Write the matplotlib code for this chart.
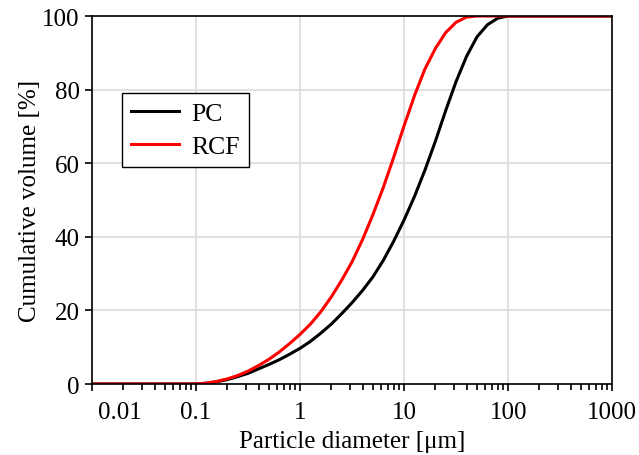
import matplotlib
matplotlib.use("Agg")
import matplotlib.pyplot as plt
import matplotlib.transforms as mtransforms

# 입경 분포 데이터 (그림에서 읽은 값, 1/10 decade 간격)
diam = [0.01, 0.1, 0.126, 0.158, 0.2, 0.251, 0.316, 0.398, 0.501, 0.631, 0.794,
        1, 1.26, 1.58, 2, 2.51, 3.16, 3.98, 5.01, 6.31, 7.94,
        10, 12.6, 15.8, 20, 25.1, 31.6, 39.8, 50.1, 63.1, 79.4, 100, 1000]

pc_v = [0, 0, 0.2, 0.6, 1.2, 2.0, 2.9, 4.1, 5.3, 6.6, 8.1,
        9.7, 11.6, 13.8, 16.3, 19.1, 22.1, 25.4, 29.1, 33.6, 38.8,
        44.6, 51, 58, 66, 74.3, 82.2, 89, 94.3, 97.6, 99.4, 100, 100]

rcf_v = [0, 0, 0.25, 0.7, 1.4, 2.3, 3.5, 5.0, 6.7, 8.7, 11.0,
         13.5, 16.3, 19.6, 23.7, 28.2, 33.2, 39.2, 46, 53.4, 61.6,
         70.2, 78.4, 85.5, 91.2, 95.5, 98.3, 99.7, 100, 100, 100, 100, 100]

xticks = [0.01, 0.1, 1, 10, 100, 1000]
xticklabels = ["0.01", "0.1", "1", "10", "100", "1000"]
yticks = [0, 20, 40, 60, 80, 100]

plt.rcParams['font.family'] = ['Liberation Serif', 'DejaVu Serif']

fig = plt.figure(figsize=(6.39, 4.56), dpi=100)
ax = fig.add_axes([0.144, 0.1557, 0.814, 0.807])

ax.plot(diam, pc_v, color="black", lw=2.2, label="PC")
ax.plot(diam, rcf_v, color="red", lw=2.2, label="RCF")

ax.set_xscale("log")
ax.set_xlim(0.01, 1000)
ax.set_ylim(0, 100)
ax.set_xticks(xticks)
ax.set_xticklabels(xticklabels)
ax.set_yticks(yticks)

ax.grid(True, which="major", color="#dcdcdc", lw=1.2)
ax.set_axisbelow(True)

ax.tick_params(axis="both", which="major", direction="out", length=5, width=1.2,
               labelsize=18, pad=4, colors="black")
ax.tick_params(axis="x", which="major", pad=7)
ax.tick_params(axis="x", which="minor", direction="out", length=4, width=1.2)
ax.tick_params(axis="y", which="minor", left=False)
for s in ax.spines.values():
    s.set_linewidth(1.2)

# 첫 번째 눈금 라벨은 축 안쪽으로 밀어 배치
lab0 = ax.get_xticklabels()[0]
lab0.set_horizontalalignment("left")
lab0.set_transform(lab0.get_transform() +
                   mtransforms.ScaledTranslation(6 / 100, 0, fig.dpi_scale_trans))

ax.set_xlabel("Particle diameter [μm]", fontsize=18, labelpad=5)
ax.set_ylabel("Cumulative volume [%]", fontsize=18, labelpad=1)

leg = ax.legend(loc="upper left", bbox_to_anchor=(0.058, 0.791), borderaxespad=0,
                fontsize=18.5, frameon=True, fancybox=False, framealpha=1,
                edgecolor="black", handlelength=1.85, handletextpad=0.5,
                borderpad=0.35, labelspacing=0.4)
leg.get_frame().set_linewidth(1.0)

fig.savefig("out.png", dpi=100)
